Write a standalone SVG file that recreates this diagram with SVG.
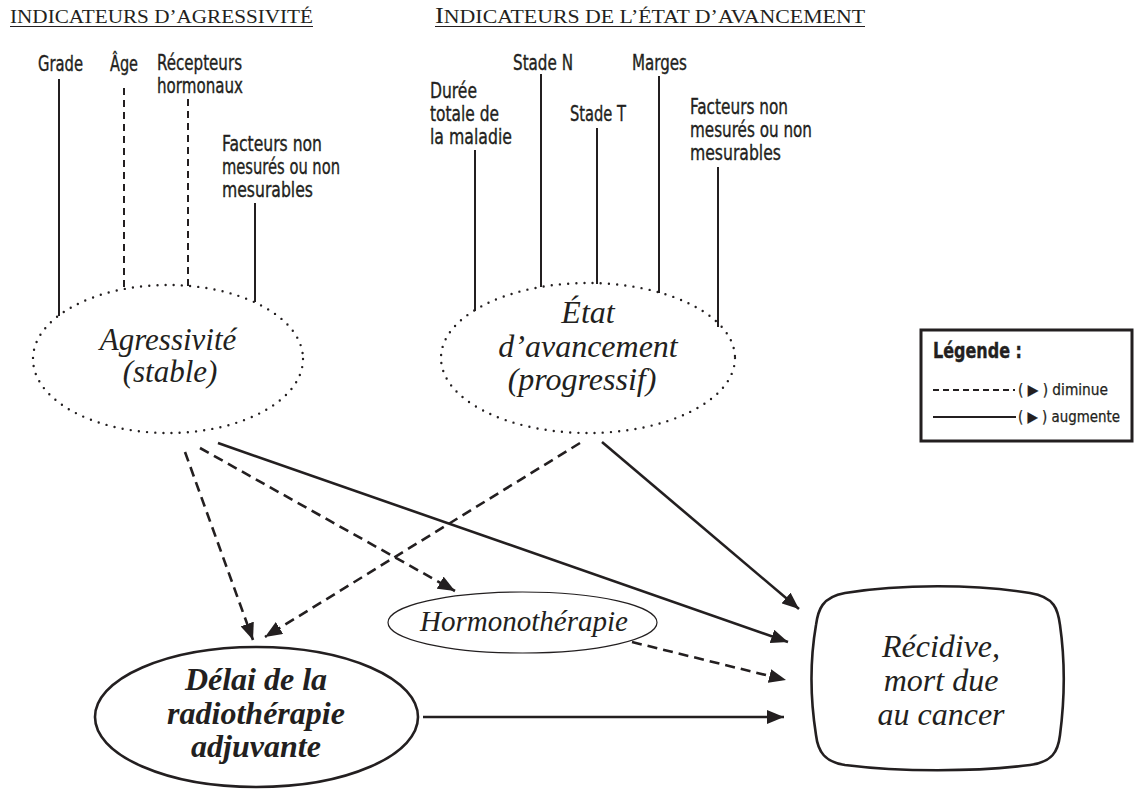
<svg xmlns="http://www.w3.org/2000/svg" width="1139" height="793" viewBox="0 0 1139 793">
  <style>
    .bg { fill: #ffffff; }
    .head { font-family: "Liberation Serif", "DejaVu Serif", serif; fill: #231f20; }
    .lbl { font-family: "DejaVu Sans Condensed", "DejaVu Sans", sans-serif; font-stretch: condensed; font-size: 21px; fill: #231f20; stroke: #231f20; stroke-width: 0.35; }
    .lgd { font-family: "DejaVu Sans Condensed", "DejaVu Sans", sans-serif; font-stretch: condensed; font-size: 15px; fill: #231f20; stroke: #231f20; stroke-width: 0.25; }
    .node { font-family: "Liberation Serif", "DejaVu Serif", serif; font-style: italic; fill: #231f20; text-anchor: middle; }
    .ind { stroke: #231f20; stroke-width: 2; fill: none; }
    .ind-dash { stroke: #231f20; stroke-width: 2; fill: none; stroke-dasharray: 7 5; }
    .dotted { stroke: #231f20; stroke-width: 2.4; fill: none; stroke-dasharray: 0 8.2; stroke-linecap: round; }
    .solid { stroke: #231f20; stroke-width: 2.6; fill: none; marker-end: url(#arrow); }
    .dash { stroke: #231f20; stroke-width: 2.6; fill: none; stroke-dasharray: 10 6; marker-end: url(#arrow); }
    .rule { stroke: #231f20; stroke-width: 1.2; }
  </style>
  <defs>
    <marker id="arrow" markerUnits="userSpaceOnUse" markerWidth="18" markerHeight="14" refX="17" refY="7" orient="auto">
      <path d="M0,0 L17,7 L0,14 Z" fill="#231f20"/>
    </marker>
  </defs>

  <rect class="bg" x="0" y="0" width="1139" height="793"/>

  <!-- section headings -->
  <g id="heading-aggressivity">
    <text class="head" x="10" y="23" font-size="18.5" textLength="303" lengthAdjust="spacingAndGlyphs">INDICATEURS D’AGRESSIVITÉ</text>
    <line class="rule" x1="10" y1="26.5" x2="313" y2="26.5"/>
  </g>
  <g id="heading-stage">
    <text class="head" x="435" y="23" font-size="18.5" textLength="430" lengthAdjust="spacingAndGlyphs"><tspan font-size="22.5">I</tspan>NDICATEURS DE L’ÉTAT D’AVANCEMENT</text>
    <line class="rule" x1="435" y1="26.5" x2="865" y2="26.5"/>
  </g>

  <!-- aggressivity indicators -->
  <g id="ind-grade">
    <text class="lbl" x="38" y="71" textLength="45" lengthAdjust="spacingAndGlyphs">Grade</text>
  </g>
  <g id="ind-age">
    <text class="lbl" x="110" y="71" textLength="28" lengthAdjust="spacingAndGlyphs">Âge</text>
  </g>
  <g id="ind-receptors">
    <text class="lbl" x="157" y="70" textLength="85" lengthAdjust="spacingAndGlyphs">Récepteurs</text>
    <text class="lbl" x="157" y="93" textLength="86" lengthAdjust="spacingAndGlyphs">hormonaux</text>
  </g>
  <g id="ind-unmeasured-a">
    <text class="lbl" x="222" y="151" textLength="100" lengthAdjust="spacingAndGlyphs">Facteurs non</text>
    <text class="lbl" x="222" y="174" textLength="118" lengthAdjust="spacingAndGlyphs">mesurés ou non</text>
    <text class="lbl" x="222" y="197" textLength="91" lengthAdjust="spacingAndGlyphs">mesurables</text>
  </g>

  <!-- stage indicators -->
  <g id="ind-duration">
    <text class="lbl" x="430" y="98" textLength="47" lengthAdjust="spacingAndGlyphs">Durée</text>
    <text class="lbl" x="430" y="121" textLength="69" lengthAdjust="spacingAndGlyphs">totale de</text>
    <text class="lbl" x="430" y="144" textLength="82" lengthAdjust="spacingAndGlyphs">la maladie</text>
  </g>
  <g id="ind-stage-n">
    <text class="lbl" x="513" y="70" textLength="60" lengthAdjust="spacingAndGlyphs">Stade N</text>
  </g>
  <g id="ind-stage-t">
    <text class="lbl" x="570" y="121" textLength="56" lengthAdjust="spacingAndGlyphs">Stade T</text>
  </g>
  <g id="ind-margins">
    <text class="lbl" x="632" y="70" textLength="55" lengthAdjust="spacingAndGlyphs">Marges</text>
  </g>
  <g id="ind-unmeasured-s">
    <text class="lbl" x="690" y="114" textLength="98" lengthAdjust="spacingAndGlyphs">Facteurs non</text>
    <text class="lbl" x="690" y="137" textLength="122" lengthAdjust="spacingAndGlyphs">mesurés ou non</text>
    <text class="lbl" x="690" y="160" textLength="91" lengthAdjust="spacingAndGlyphs">mesurables</text>
  </g>

  <!-- latent constructs -->
  <g id="node-aggressivity">
    <ellipse class="dotted" cx="168" cy="359" rx="135" ry="74"/>
    <text class="node" x="168" y="350" font-size="31">Agressivité</text>
    <text class="node" x="170" y="382" font-size="31">(stable)</text>
  </g>
  <g id="node-stage">
    <ellipse class="dotted" cx="588" cy="358" rx="147" ry="75"/>
    <text class="node" x="588" y="323" font-size="32">État</text>
    <text class="node" x="588" y="357" font-size="32">d’avancement</text>
    <text class="node" x="582" y="390" font-size="32">(progressif)</text>
  </g>

  <!-- treatments and outcome -->
  <g id="node-hormonotherapy">
    <ellipse cx="522.5" cy="622.5" rx="134.5" ry="30.5" fill="none" stroke="#231f20" stroke-width="1.2"/>
    <text class="node" x="524" y="631" font-size="29">Hormonothérapie</text>
  </g>
  <g id="node-delay">
    <ellipse cx="256.5" cy="717" rx="161.5" ry="70" fill="none" stroke="#231f20" stroke-width="2.6"/>
    <text class="node" x="256" y="690" font-size="32" font-weight="bold">Délai de la</text>
    <text class="node" x="256" y="724" font-size="32" font-weight="bold">radiothérapie</text>
    <text class="node" x="256" y="757" font-size="32" font-weight="bold">adjuvante</text>
  </g>
  <g id="node-outcome">
    <path d="M845,593 C900,584 975,584 1030,593 C1055,597 1058,610 1060,625 C1065,660 1065,697 1060,735 C1058,752 1052,762 1030,765 C975,772 900,772 845,765 C825,762 818,752 816,735 C810,697 810,660 816,625 C818,610 822,597 845,593 Z" fill="none" stroke="#231f20" stroke-width="2.6"/>
    <text class="node" x="941" y="657" font-size="32">Récidive,</text>
    <text class="node" x="941" y="691" font-size="32">mort due</text>
    <text class="node" x="941" y="725" font-size="32">au cancer</text>
  </g>

  <!-- legend -->
  <g id="legend">
    <rect x="921" y="330" width="211" height="111" fill="none" stroke="#231f20" stroke-width="3"/>
    <text class="lbl" x="933" y="358" font-weight="bold" font-size="19" textLength="89" lengthAdjust="spacingAndGlyphs">Légende :</text>
    <line x1="933" y1="390" x2="1015" y2="390" stroke="#231f20" stroke-width="2" stroke-dasharray="6 4"/>
    <text class="lgd" x="1018" y="395" textLength="90" lengthAdjust="spacingAndGlyphs">( ▶ ) diminue</text>
    <line x1="933" y1="417" x2="1016" y2="417" stroke="#231f20" stroke-width="2"/>
    <text class="lgd" x="1018" y="422" textLength="102" lengthAdjust="spacingAndGlyphs">( ▶ ) augmente</text>
  </g>

  <!-- connectors -->
  <g id="connectors">
    <!-- indicator lines -->
    <line class="ind" x1="59" y1="79" x2="59" y2="316"/>
    <line class="ind-dash" x1="124" y1="88" x2="124" y2="289"/>
    <line class="ind-dash" x1="188" y1="99" x2="188" y2="286"/>
    <line class="ind" x1="255" y1="203" x2="255" y2="302"/>
    <line class="ind" x1="475" y1="150" x2="475" y2="311"/>
    <line class="ind" x1="541" y1="74" x2="541" y2="287"/>
    <line class="ind" x1="597" y1="128" x2="597" y2="284"/>
    <line class="ind" x1="659" y1="76" x2="659" y2="293"/>
    <line class="ind" x1="718" y1="167" x2="718" y2="327"/>
    <!-- causal arrows -->
    <line class="dash" x1="185" y1="452" x2="253" y2="640"/>
    <line class="dash" x1="200" y1="448" x2="455" y2="591"/>
    <line class="solid" x1="218" y1="443" x2="788" y2="642"/>
    <line class="dash" x1="580" y1="443" x2="265" y2="637"/>
    <line class="solid" x1="602" y1="442" x2="799" y2="609"/>
    <line class="dash" x1="632" y1="642" x2="786" y2="680"/>
    <line class="solid" x1="423" y1="717" x2="784" y2="717"/>
  </g>
</svg>
